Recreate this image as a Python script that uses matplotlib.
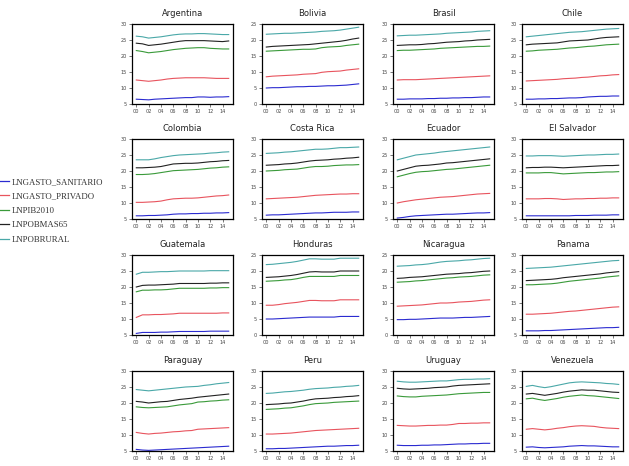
import matplotlib
matplotlib.use("Agg")
import matplotlib.pyplot as plt
from matplotlib.lines import Line2D

# years 2000-2015
years = list(range(0, 16))
tick_years = [0, 2, 4, 6, 8, 10, 12, 14]
tick_labels = ["00", "02", "04", "06", "08", "10", "12", "14"]

series_names = ["LNGASTO_SANITARIO", "LNGASTO_PRIVADO", "LNPIB2010",
                "LNPOBMAS65", "LNPOBRURAL"]
colors = ["#2b2bd0", "#e8545e", "#3a9a3a", "#222222", "#4aa8a8"]

# each country: [sanitario, privado, pib2010, pobmas65, pobrural]
argentina = [
    [6.5, 6.4, 6.3, 6.5, 6.6, 6.7, 6.8, 6.9, 7.0, 7.0, 7.2, 7.2, 7.1, 7.2, 7.2, 7.3],
    [12.5, 12.3, 12.1, 12.3, 12.5, 12.8, 13.0, 13.1, 13.2, 13.2, 13.2, 13.2, 13.1, 13.0, 13.0, 13.0],
    [21.7, 21.4, 21.0, 21.2, 21.4, 21.7, 22.0, 22.2, 22.4, 22.5, 22.6, 22.6, 22.4, 22.3, 22.2, 22.2],
    [24.0, 23.8, 23.3, 23.5, 23.7, 24.0, 24.3, 24.6, 24.8, 24.8, 24.8, 24.8, 24.7, 24.6, 24.5, 24.7],
    [26.2, 26.0, 25.6, 25.8, 26.0, 26.3, 26.6, 26.8, 26.9, 26.9, 27.0, 27.0, 26.9, 26.8, 26.7, 26.7],
]
bolivia = [
    [5.0, 5.1, 5.1, 5.2, 5.3, 5.4, 5.4, 5.5, 5.5, 5.6, 5.7, 5.7, 5.8, 5.9, 6.1, 6.3],
    [8.5, 8.7, 8.8, 8.9, 9.0, 9.1, 9.3, 9.4, 9.5, 9.9, 10.1, 10.2, 10.3, 10.6, 10.8, 11.0],
    [16.5, 16.6, 16.7, 16.8, 16.9, 17.0, 17.1, 17.1, 17.2, 17.6, 17.8, 17.9, 18.0, 18.3, 18.5, 18.7],
    [17.8, 18.0, 18.1, 18.2, 18.3, 18.4, 18.5, 18.6, 18.8, 19.0, 19.2, 19.4, 19.6, 19.9, 20.3, 20.6],
    [21.8, 21.9, 22.0, 22.1, 22.1, 22.2, 22.3, 22.4, 22.5, 22.7, 22.8, 22.9, 23.1, 23.4, 23.7, 24.0],
]
brasil = [
    [6.5, 6.5, 6.6, 6.6, 6.6, 6.7, 6.7, 6.8, 6.8, 6.9, 6.9, 7.0, 7.0, 7.1, 7.2, 7.2],
    [12.5, 12.6, 12.6, 12.6, 12.7, 12.8, 12.9, 13.0, 13.1, 13.2, 13.3, 13.4, 13.5, 13.6, 13.7, 13.8],
    [21.7, 21.8, 21.8, 21.9, 22.0, 22.1, 22.2, 22.4, 22.5, 22.6, 22.7, 22.8, 22.9, 23.0, 23.0, 23.1],
    [23.3, 23.4, 23.5, 23.5, 23.6, 23.8, 23.9, 24.1, 24.3, 24.4, 24.5, 24.7, 24.8, 25.0, 25.1, 25.2],
    [26.3, 26.4, 26.5, 26.5, 26.6, 26.7, 26.8, 26.9, 27.1, 27.2, 27.3, 27.4, 27.5, 27.7, 27.8, 27.9],
]
chile = [
    [6.5, 6.5, 6.6, 6.6, 6.7, 6.7, 6.8, 6.9, 6.9, 7.0, 7.2, 7.3, 7.4, 7.4, 7.5, 7.5],
    [12.2, 12.3, 12.4, 12.5, 12.6, 12.7, 12.9, 13.0, 13.1, 13.3, 13.4, 13.6, 13.8, 13.9, 14.1, 14.2],
    [21.5, 21.6, 21.8, 21.9, 22.0, 22.1, 22.3, 22.5, 22.6, 22.8, 23.0, 23.1, 23.3, 23.5, 23.6, 23.7],
    [23.5, 23.7, 23.8, 23.9, 24.0, 24.1, 24.4, 24.7, 24.8, 24.9, 25.0, 25.3, 25.6, 25.8, 25.9, 26.0],
    [26.0, 26.2, 26.4, 26.6, 26.8, 27.0, 27.2, 27.4, 27.5, 27.6, 27.8, 28.0, 28.2, 28.4, 28.5, 28.6],
]
colombia = [
    [6.0, 6.0, 6.1, 6.1, 6.2, 6.3, 6.5, 6.6, 6.6, 6.7, 6.7, 6.8, 6.8, 6.9, 6.9, 7.0],
    [10.2, 10.2, 10.3, 10.4, 10.6, 11.0, 11.3, 11.4, 11.5, 11.5, 11.6, 11.8, 12.0, 12.2, 12.3, 12.5],
    [18.9, 18.9, 19.0, 19.2, 19.5, 19.8, 20.1, 20.2, 20.3, 20.4, 20.5, 20.7, 20.9, 21.0, 21.2, 21.3],
    [21.0, 21.0, 21.1, 21.2, 21.4, 21.8, 22.2, 22.3, 22.4, 22.4, 22.5, 22.7, 22.9, 23.0, 23.2, 23.3],
    [23.5, 23.5, 23.5, 23.8, 24.2, 24.5, 24.8, 25.0, 25.1, 25.2, 25.3, 25.4, 25.6, 25.7, 25.9, 26.0],
]
costa_rica = [
    [6.2, 6.3, 6.3, 6.4, 6.5, 6.6, 6.7, 6.8, 6.9, 6.9, 7.0, 7.1, 7.1, 7.1, 7.2, 7.2],
    [11.3, 11.4, 11.5, 11.6, 11.7, 11.8, 12.0, 12.2, 12.4, 12.5, 12.6, 12.7, 12.8, 12.8, 12.9, 12.9],
    [20.0, 20.1, 20.2, 20.4, 20.5, 20.6, 20.9, 21.2, 21.4, 21.4, 21.5, 21.7, 21.8, 21.9, 21.9, 22.0],
    [21.8, 21.9, 22.0, 22.2, 22.3, 22.5, 22.8, 23.1, 23.3, 23.4, 23.5, 23.7, 23.8, 24.0, 24.1, 24.3],
    [25.5, 25.6, 25.7, 25.9, 26.0, 26.2, 26.4, 26.6, 26.8, 26.8, 26.9, 27.1, 27.3, 27.3, 27.4, 27.5],
]
ecuador = [
    [5.3, 5.5, 5.8, 6.0, 6.1, 6.2, 6.3, 6.4, 6.5, 6.5, 6.6, 6.7, 6.8, 6.9, 6.9, 7.0],
    [10.0, 10.4, 10.7, 11.0, 11.2, 11.4, 11.6, 11.8, 11.9, 12.0, 12.2, 12.4, 12.6, 12.8, 12.9, 13.0],
    [18.2, 18.7, 19.2, 19.6, 19.8, 19.9, 20.1, 20.3, 20.5, 20.6, 20.8, 21.0, 21.2, 21.4, 21.6, 21.8],
    [20.0, 20.5, 21.0, 21.5, 21.7, 21.8, 22.0, 22.2, 22.5, 22.6, 22.8, 23.0, 23.2, 23.4, 23.6, 23.8],
    [23.5, 24.0, 24.5, 25.0, 25.2, 25.4, 25.6, 25.9, 26.1, 26.3, 26.5, 26.7, 26.9, 27.1, 27.3, 27.5],
]
el_salvador = [
    [6.0, 6.0, 6.0, 6.0, 6.0, 6.0, 6.0, 6.0, 6.1, 6.1, 6.1, 6.2, 6.2, 6.2, 6.3, 6.3],
    [11.3, 11.3, 11.3, 11.4, 11.4, 11.3, 11.1, 11.2, 11.3, 11.3, 11.4, 11.4, 11.5, 11.5, 11.6, 11.6],
    [19.4, 19.4, 19.4, 19.5, 19.5, 19.3, 19.1, 19.2, 19.3, 19.4, 19.5, 19.5, 19.6, 19.7, 19.7, 19.8],
    [21.0, 21.1, 21.1, 21.2, 21.2, 21.1, 21.0, 21.1, 21.2, 21.3, 21.4, 21.5, 21.6, 21.7, 21.7, 21.8],
    [24.7, 24.7, 24.8, 24.8, 24.8, 24.7, 24.6, 24.7, 24.8, 24.9, 25.0, 25.0, 25.1, 25.2, 25.2, 25.3],
]
guatemala = [
    [5.5, 5.8, 5.8, 5.8, 5.9, 5.9, 6.0, 6.1, 6.1, 6.1, 6.1, 6.1, 6.2, 6.2, 6.2, 6.2],
    [10.5, 11.3, 11.3, 11.4, 11.4, 11.5, 11.6, 11.8, 11.8, 11.8, 11.8, 11.8, 11.8, 11.8, 11.9, 11.9],
    [18.5, 19.0, 19.0, 19.1, 19.1, 19.2, 19.4, 19.6, 19.6, 19.6, 19.6, 19.6, 19.7, 19.7, 19.8, 19.8],
    [20.0, 20.5, 20.6, 20.6, 20.7, 20.8, 20.9, 21.1, 21.1, 21.1, 21.1, 21.1, 21.2, 21.2, 21.3, 21.3],
    [24.0, 24.6, 24.6, 24.7, 24.8, 24.8, 24.9, 25.0, 25.0, 25.0, 25.0, 25.0, 25.1, 25.1, 25.1, 25.1],
]
honduras = [
    [5.0, 5.0, 5.1, 5.2, 5.3, 5.4, 5.5, 5.6, 5.6, 5.6, 5.6, 5.6, 5.8, 5.8, 5.8, 5.8],
    [9.3, 9.3, 9.5, 9.8, 10.0, 10.2, 10.5, 10.8, 10.8, 10.7, 10.7, 10.7, 11.0, 11.0, 11.0, 11.0],
    [16.8, 16.9, 17.0, 17.2, 17.3, 17.6, 18.0, 18.3, 18.3, 18.3, 18.3, 18.3, 18.6, 18.6, 18.6, 18.6],
    [18.0, 18.1, 18.2, 18.4, 18.6, 18.9, 19.3, 19.7, 19.8, 19.7, 19.7, 19.7, 20.0, 20.0, 20.0, 20.0],
    [22.0, 22.1, 22.3, 22.5, 22.7, 23.0, 23.4, 23.8, 23.8, 23.7, 23.7, 23.7, 24.0, 24.0, 24.0, 24.0],
]
nicaragua = [
    [4.8, 4.8, 4.9, 4.9, 5.0, 5.1, 5.2, 5.3, 5.3, 5.3, 5.4, 5.5, 5.5, 5.6, 5.7, 5.8],
    [9.0, 9.1, 9.2, 9.3, 9.4, 9.6, 9.8, 10.0, 10.0, 10.1, 10.3, 10.4, 10.5, 10.7, 10.9, 11.0],
    [16.5, 16.6, 16.7, 16.9, 17.0, 17.2, 17.4, 17.6, 17.8, 17.9, 18.1, 18.2, 18.3, 18.5, 18.7, 18.8],
    [17.7, 17.8, 18.0, 18.1, 18.2, 18.4, 18.6, 18.8, 19.0, 19.1, 19.2, 19.4, 19.5, 19.7, 19.9, 20.0],
    [21.5, 21.6, 21.7, 21.9, 22.0, 22.2, 22.5, 22.8, 23.0, 23.1, 23.2, 23.4, 23.5, 23.7, 23.9, 24.0],
]
panama = [
    [6.3, 6.3, 6.3, 6.4, 6.4, 6.5, 6.6, 6.7, 6.8, 6.9, 7.0, 7.1, 7.2, 7.3, 7.3, 7.4],
    [11.5, 11.5, 11.6, 11.7, 11.8, 12.0, 12.2, 12.4, 12.5, 12.7, 12.9, 13.1, 13.3, 13.5, 13.7, 13.8],
    [20.7, 20.7, 20.8, 20.9, 21.0, 21.2, 21.5, 21.8, 22.0, 22.2, 22.4, 22.6, 22.8, 23.1, 23.3, 23.5],
    [22.0, 22.1, 22.2, 22.3, 22.4, 22.6, 22.9, 23.1, 23.3, 23.5, 23.7, 23.9, 24.1, 24.4, 24.6, 24.8],
    [25.8, 25.9, 26.0, 26.1, 26.2, 26.4, 26.6, 26.8, 27.0, 27.2, 27.4, 27.6, 27.8, 28.0, 28.2, 28.3],
]
paraguay = [
    [5.5, 5.3, 5.2, 5.3, 5.4, 5.5, 5.6, 5.7, 5.8, 5.9, 6.0, 6.1, 6.2, 6.3, 6.4, 6.5],
    [10.8, 10.5, 10.3, 10.5, 10.6, 10.8, 11.0, 11.1, 11.3, 11.4, 11.8, 11.9, 12.0, 12.1, 12.2, 12.3],
    [18.8, 18.6, 18.5, 18.6, 18.7, 18.8, 19.1, 19.4, 19.6, 19.8, 20.3, 20.4, 20.6, 20.7, 20.9, 21.0],
    [20.5, 20.3, 20.0, 20.2, 20.4, 20.5, 20.8, 21.1, 21.3, 21.5, 21.8, 22.0, 22.2, 22.4, 22.6, 22.8],
    [24.2, 24.0, 23.8, 24.0, 24.2, 24.4, 24.6, 24.8, 25.0, 25.1, 25.2, 25.5, 25.7, 26.0, 26.2, 26.4],
]
peru = [
    [5.7, 5.7, 5.8, 5.8, 5.9, 6.0, 6.1, 6.2, 6.3, 6.4, 6.5, 6.5, 6.6, 6.7, 6.7, 6.8],
    [10.3, 10.3, 10.4, 10.5, 10.6, 10.8, 11.0, 11.2, 11.4, 11.5, 11.6, 11.7, 11.8, 11.9, 12.0, 12.1],
    [18.0, 18.1, 18.2, 18.4, 18.5, 18.8, 19.1, 19.5, 19.8, 19.9, 20.0, 20.2, 20.3, 20.4, 20.5, 20.6],
    [19.5, 19.6, 19.7, 19.9, 20.0, 20.3, 20.6, 21.0, 21.3, 21.4, 21.5, 21.7, 21.8, 22.0, 22.1, 22.3],
    [23.0, 23.1, 23.3, 23.5, 23.6, 23.8, 24.0, 24.3, 24.5, 24.6, 24.7, 24.9, 25.0, 25.2, 25.3, 25.5],
]
uruguay = [
    [6.8, 6.7, 6.7, 6.7, 6.8, 6.8, 6.9, 6.9, 7.0, 7.1, 7.2, 7.2, 7.3, 7.3, 7.4, 7.4],
    [13.0, 12.9, 12.8, 12.8, 12.9, 13.0, 13.0, 13.1, 13.1, 13.3, 13.6, 13.6, 13.7, 13.7, 13.8, 13.8],
    [22.2, 22.0, 21.9, 21.9, 22.1, 22.2, 22.3, 22.4, 22.5, 22.7, 22.9, 23.0, 23.1, 23.2, 23.3, 23.3],
    [24.6, 24.4, 24.3, 24.4, 24.5, 24.6, 24.8, 24.9, 25.0, 25.3, 25.5, 25.6, 25.7, 25.8, 25.9, 26.0],
    [26.8, 26.6, 26.5, 26.5, 26.6, 26.7, 26.8, 26.9, 26.9, 27.1, 27.3, 27.4, 27.4, 27.5, 27.5, 27.6],
]
venezuela = [
    [6.2, 6.3, 6.1, 6.0, 6.1, 6.2, 6.3, 6.5, 6.6, 6.7, 6.6, 6.6, 6.5, 6.4, 6.3, 6.3],
    [11.8, 12.0, 11.8, 11.6, 11.8, 12.1, 12.3, 12.6, 12.8, 12.9, 12.8, 12.7, 12.4, 12.2, 12.1, 12.0],
    [21.3, 21.5, 21.1, 20.8, 21.1, 21.4, 21.8, 22.1, 22.3, 22.5, 22.3, 22.2, 22.0, 21.8, 21.6, 21.4],
    [22.8, 23.0, 22.7, 22.4, 22.7, 23.0, 23.4, 23.7, 23.9, 24.1, 24.0, 24.0, 23.8, 23.6, 23.4, 23.3],
    [25.2, 25.5, 25.1, 24.8, 25.1, 25.5, 25.9, 26.3, 26.5, 26.6, 26.5, 26.4, 26.3, 26.1, 26.0, 25.8],
]

countries = ["Argentina", "Bolivia", "Brasil", "Chile",
             "Colombia", "Costa Rica", "Ecuador", "El Salvador",
             "Guatemala", "Honduras", "Nicaragua", "Panama",
             "Paraguay", "Peru", "Uruguay", "Venezuela"]
panel_data = [argentina, bolivia, brasil, chile,
              colombia, costa_rica, ecuador, el_salvador,
              guatemala, honduras, nicaragua, panama,
              paraguay, peru, uruguay, venezuela]
# countries shown on a 0-25 scale instead of 5-30
low_scale = ["Bolivia", "Honduras", "Nicaragua"]

W, H = 629, 466
fig = plt.figure(figsize=(W / 100, H / 100), dpi=100)
fig.patch.set_facecolor("white")

col_left = [132, 262, 393, 522]
row_top = [24, 139, 255, 371]
ax_w, ax_h = 101, 80

for i, (name, data) in enumerate(zip(countries, panel_data)):
    r, c = divmod(i, 4)
    left = col_left[c] / W
    bottom = 1 - (row_top[r] + ax_h) / H
    ax = fig.add_axes([left, bottom, ax_w / W, ax_h / H])
    for vals, col in zip(data, colors):
        ax.plot(years, vals, color=col, lw=0.8)
    if name in low_scale:
        ax.set_ylim(0, 25)
        ax.set_yticks([0, 5, 10, 15, 20, 25])
    else:
        ax.set_ylim(5, 30)
        ax.set_yticks([5, 10, 15, 20, 25, 30])
    ax.set_xlim(-0.7, 15.7)
    ax.set_xticks(tick_years)
    ax.set_xticklabels(tick_labels)
    ax.tick_params(labelsize=3.6, length=2, width=0.5, pad=1.5, colors="#444444")
    for s in ax.spines.values():
        s.set_linewidth(0.9)
    ax.set_title(name, fontsize=6, pad=6, color="#222222")

# legend on the left side
handles = [Line2D([0], [0], color=col, lw=0.9) for col in colors]
fig.legend(handles, series_names, loc="upper left",
           bbox_to_anchor=(-0.003, 1 - 178 / H), frameon=False,
           prop={"family": "Liberation Serif", "size": 6.3},
           labelcolor="#333333",
           handlelength=1.3, handletextpad=0.3, labelspacing=0.72,
           borderaxespad=0, borderpad=0)

fig.savefig("out.png", dpi=100, facecolor="white")
